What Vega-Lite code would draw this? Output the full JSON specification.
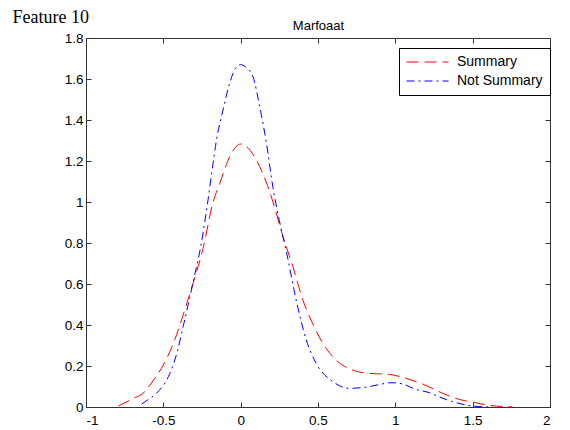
{
  "$schema": "https://vega.github.io/schema/vega-lite/v6.json",
  "autosize": {"type": "none"},
  "width": 464,
  "height": 369,
  "padding": {"left": 86, "top": 38, "right": 20, "bottom": 23},
  "background": "white",
  "config": {
    "view": {"stroke": "#333333", "strokeWidth": 1},
    "axis": {
      "grid": false,
      "domainColor": "#333333",
      "tickColor": "#333333",
      "tickSize": -5,
      "labelFont": "Liberation Sans",
      "labelFontSize": 13.5,
      "labelColor": "black",
      "titleColor": "black",
      "titleFontWeight": "normal"
    },
    "legend": {
      "labelFont": "Liberation Sans",
      "labelFontSize": 14,
      "labelColor": "black"
    }
  },
  "data": {
    "values": [
      {"x": -0.79, "y": 0.005, "series": "Summary"},
      {"x": -0.70, "y": 0.04, "series": "Summary"},
      {"x": -0.62, "y": 0.075, "series": "Summary"},
      {"x": -0.587, "y": 0.107, "series": "Summary"},
      {"x": -0.50, "y": 0.205, "series": "Summary"},
      {"x": -0.43, "y": 0.32, "series": "Summary"},
      {"x": -0.372, "y": 0.449, "series": "Summary"},
      {"x": -0.318, "y": 0.579, "series": "Summary"},
      {"x": -0.243, "y": 0.774, "series": "Summary"},
      {"x": -0.178, "y": 1.0, "series": "Summary"},
      {"x": -0.135, "y": 1.091, "series": "Summary"},
      {"x": -0.071, "y": 1.221, "series": "Summary"},
      {"x": -0.03, "y": 1.27, "series": "Summary"},
      {"x": 0.0, "y": 1.283, "series": "Summary"},
      {"x": 0.03, "y": 1.275, "series": "Summary"},
      {"x": 0.101, "y": 1.205, "series": "Summary"},
      {"x": 0.176, "y": 1.075, "series": "Summary"},
      {"x": 0.209, "y": 1.0, "series": "Summary"},
      {"x": 0.27, "y": 0.84, "series": "Summary"},
      {"x": 0.338, "y": 0.684, "series": "Summary"},
      {"x": 0.402, "y": 0.522, "series": "Summary"},
      {"x": 0.47, "y": 0.40, "series": "Summary"},
      {"x": 0.531, "y": 0.311, "series": "Summary"},
      {"x": 0.617, "y": 0.229, "series": "Summary"},
      {"x": 0.725, "y": 0.180, "series": "Summary"},
      {"x": 0.832, "y": 0.164, "series": "Summary"},
      {"x": 0.961, "y": 0.159, "series": "Summary"},
      {"x": 1.015, "y": 0.151, "series": "Summary"},
      {"x": 1.069, "y": 0.14, "series": "Summary"},
      {"x": 1.176, "y": 0.112, "series": "Summary"},
      {"x": 1.306, "y": 0.067, "series": "Summary"},
      {"x": 1.413, "y": 0.037, "series": "Summary"},
      {"x": 1.5, "y": 0.024, "series": "Summary"},
      {"x": 1.606, "y": 0.008, "series": "Summary"},
      {"x": 1.757, "y": 0.001, "series": "Summary"},
      {"x": -0.64, "y": 0.015, "series": "Not Summary"},
      {"x": -0.59, "y": 0.04, "series": "Not Summary"},
      {"x": -0.544, "y": 0.067, "series": "Not Summary"},
      {"x": -0.458, "y": 0.164, "series": "Not Summary"},
      {"x": -0.41, "y": 0.27, "series": "Not Summary"},
      {"x": -0.372, "y": 0.392, "series": "Not Summary"},
      {"x": -0.297, "y": 0.644, "series": "Not Summary"},
      {"x": -0.254, "y": 0.80, "series": "Not Summary"},
      {"x": -0.211, "y": 1.01, "series": "Not Summary"},
      {"x": -0.18, "y": 1.18, "series": "Not Summary"},
      {"x": -0.157, "y": 1.30, "series": "Not Summary"},
      {"x": -0.114, "y": 1.449, "series": "Not Summary"},
      {"x": -0.071, "y": 1.579, "series": "Not Summary"},
      {"x": -0.035, "y": 1.65, "series": "Not Summary"},
      {"x": 0.0, "y": 1.67, "series": "Not Summary"},
      {"x": 0.03, "y": 1.66, "series": "Not Summary"},
      {"x": 0.08, "y": 1.61, "series": "Not Summary"},
      {"x": 0.123, "y": 1.465, "series": "Not Summary"},
      {"x": 0.166, "y": 1.29, "series": "Not Summary"},
      {"x": 0.209, "y": 1.07, "series": "Not Summary"},
      {"x": 0.25, "y": 0.91, "series": "Not Summary"},
      {"x": 0.295, "y": 0.76, "series": "Not Summary"},
      {"x": 0.359, "y": 0.522, "series": "Not Summary"},
      {"x": 0.424, "y": 0.327, "series": "Not Summary"},
      {"x": 0.488, "y": 0.213, "series": "Not Summary"},
      {"x": 0.596, "y": 0.124, "series": "Not Summary"},
      {"x": 0.703, "y": 0.091, "series": "Not Summary"},
      {"x": 0.8, "y": 0.096, "series": "Not Summary"},
      {"x": 0.9, "y": 0.11, "series": "Not Summary"},
      {"x": 0.961, "y": 0.118, "series": "Not Summary"},
      {"x": 1.004, "y": 0.118, "series": "Not Summary"},
      {"x": 1.047, "y": 0.112, "series": "Not Summary"},
      {"x": 1.133, "y": 0.086, "series": "Not Summary"},
      {"x": 1.219, "y": 0.07, "series": "Not Summary"},
      {"x": 1.295, "y": 0.046, "series": "Not Summary"},
      {"x": 1.37, "y": 0.026, "series": "Not Summary"},
      {"x": 1.456, "y": 0.01, "series": "Not Summary"},
      {"x": 1.54, "y": 0.002, "series": "Not Summary"},
      {"x": 1.63, "y": 0.0, "series": "Not Summary"}
    ]
  },
  "layer": [
    {
      "mark": {"type": "line", "strokeWidth": 1, "interpolate": "monotone"},
      "encoding": {
        "x": {
          "field": "x", "type": "quantitative",
          "scale": {"domain": [-1, 2], "nice": false, "zero": false},
          "axis": {"values": [-1, -0.5, 0, 0.5, 1, 1.5, 2], "labelExpr": "datum.value + ''", "title": null, "labelPadding": 11}
        },
        "y": {
          "field": "y", "type": "quantitative",
          "scale": {"domain": [0, 1.8], "nice": false},
          "axis": {
            "values": [0, 0.2, 0.4, 0.6, 0.8, 1, 1.2, 1.4, 1.6, 1.8],
            "labelExpr": "datum.value + ''",
            "labelPadding": 8,
            "title": "Feature 10",
            "titleAngle": 0,
            "titleX": -74,
            "titleY": -16,
            "titleAlign": "left",
            "titleBaseline": "alphabetic",
            "titleFont": "Liberation Serif",
            "titleFontSize": 18
          }
        },
        "color": {
          "field": "series", "type": "nominal",
          "scale": {"domain": ["Summary", "Not Summary"], "range": ["#FF0000", "#0000FF"]},
          "legend": {
            "title": null,
            "orient": "none",
            "legendX": 313,
            "legendY": 10,
            "strokeColor": "black",
            "fillColor": "white",
            "padding": 7,
            "symbolType": "stroke",
            "symbolSize": 1764,
            "symbolStrokeWidth": 1,
            "labelOffset": 8,
            "clipHeight": 14,
            "rowPadding": 5
          }
        },
        "strokeDash": {
          "field": "series", "type": "nominal",
          "scale": {"domain": ["Summary", "Not Summary"], "range": [[12, 6], [8, 4, 2, 4]]},
          "legend": null
        }
      }
    },
    {
      "mark": {"type": "line", "strokeOpacity": 0},
      "encoding": {
        "x": {
          "field": "x", "type": "quantitative",
          "scale": {"domain": [-1, 2], "nice": false, "zero": false},
          "axis": {
            "orient": "top", "values": [-1, -0.5, 0, 0.5, 1, 1.5, 2], "labels": false,
            "title": "Marfoaat",
            "titleX": 232, "titleY": -9,
            "titleBaseline": "alphabetic",
            "titleFont": "Liberation Sans",
            "titleFontSize": 13
          }
        },
        "y": {
          "field": "y", "type": "quantitative",
          "scale": {"domain": [0, 1.8], "nice": false},
          "axis": {"orient": "right", "values": [0, 0.2, 0.4, 0.6, 0.8, 1, 1.2, 1.4, 1.6, 1.8], "labels": false, "title": null}
        },
        "detail": {"field": "series", "type": "nominal"}
      }
    }
  ],
  "resolve": {"axis": {"x": "independent", "y": "independent"}}
}
